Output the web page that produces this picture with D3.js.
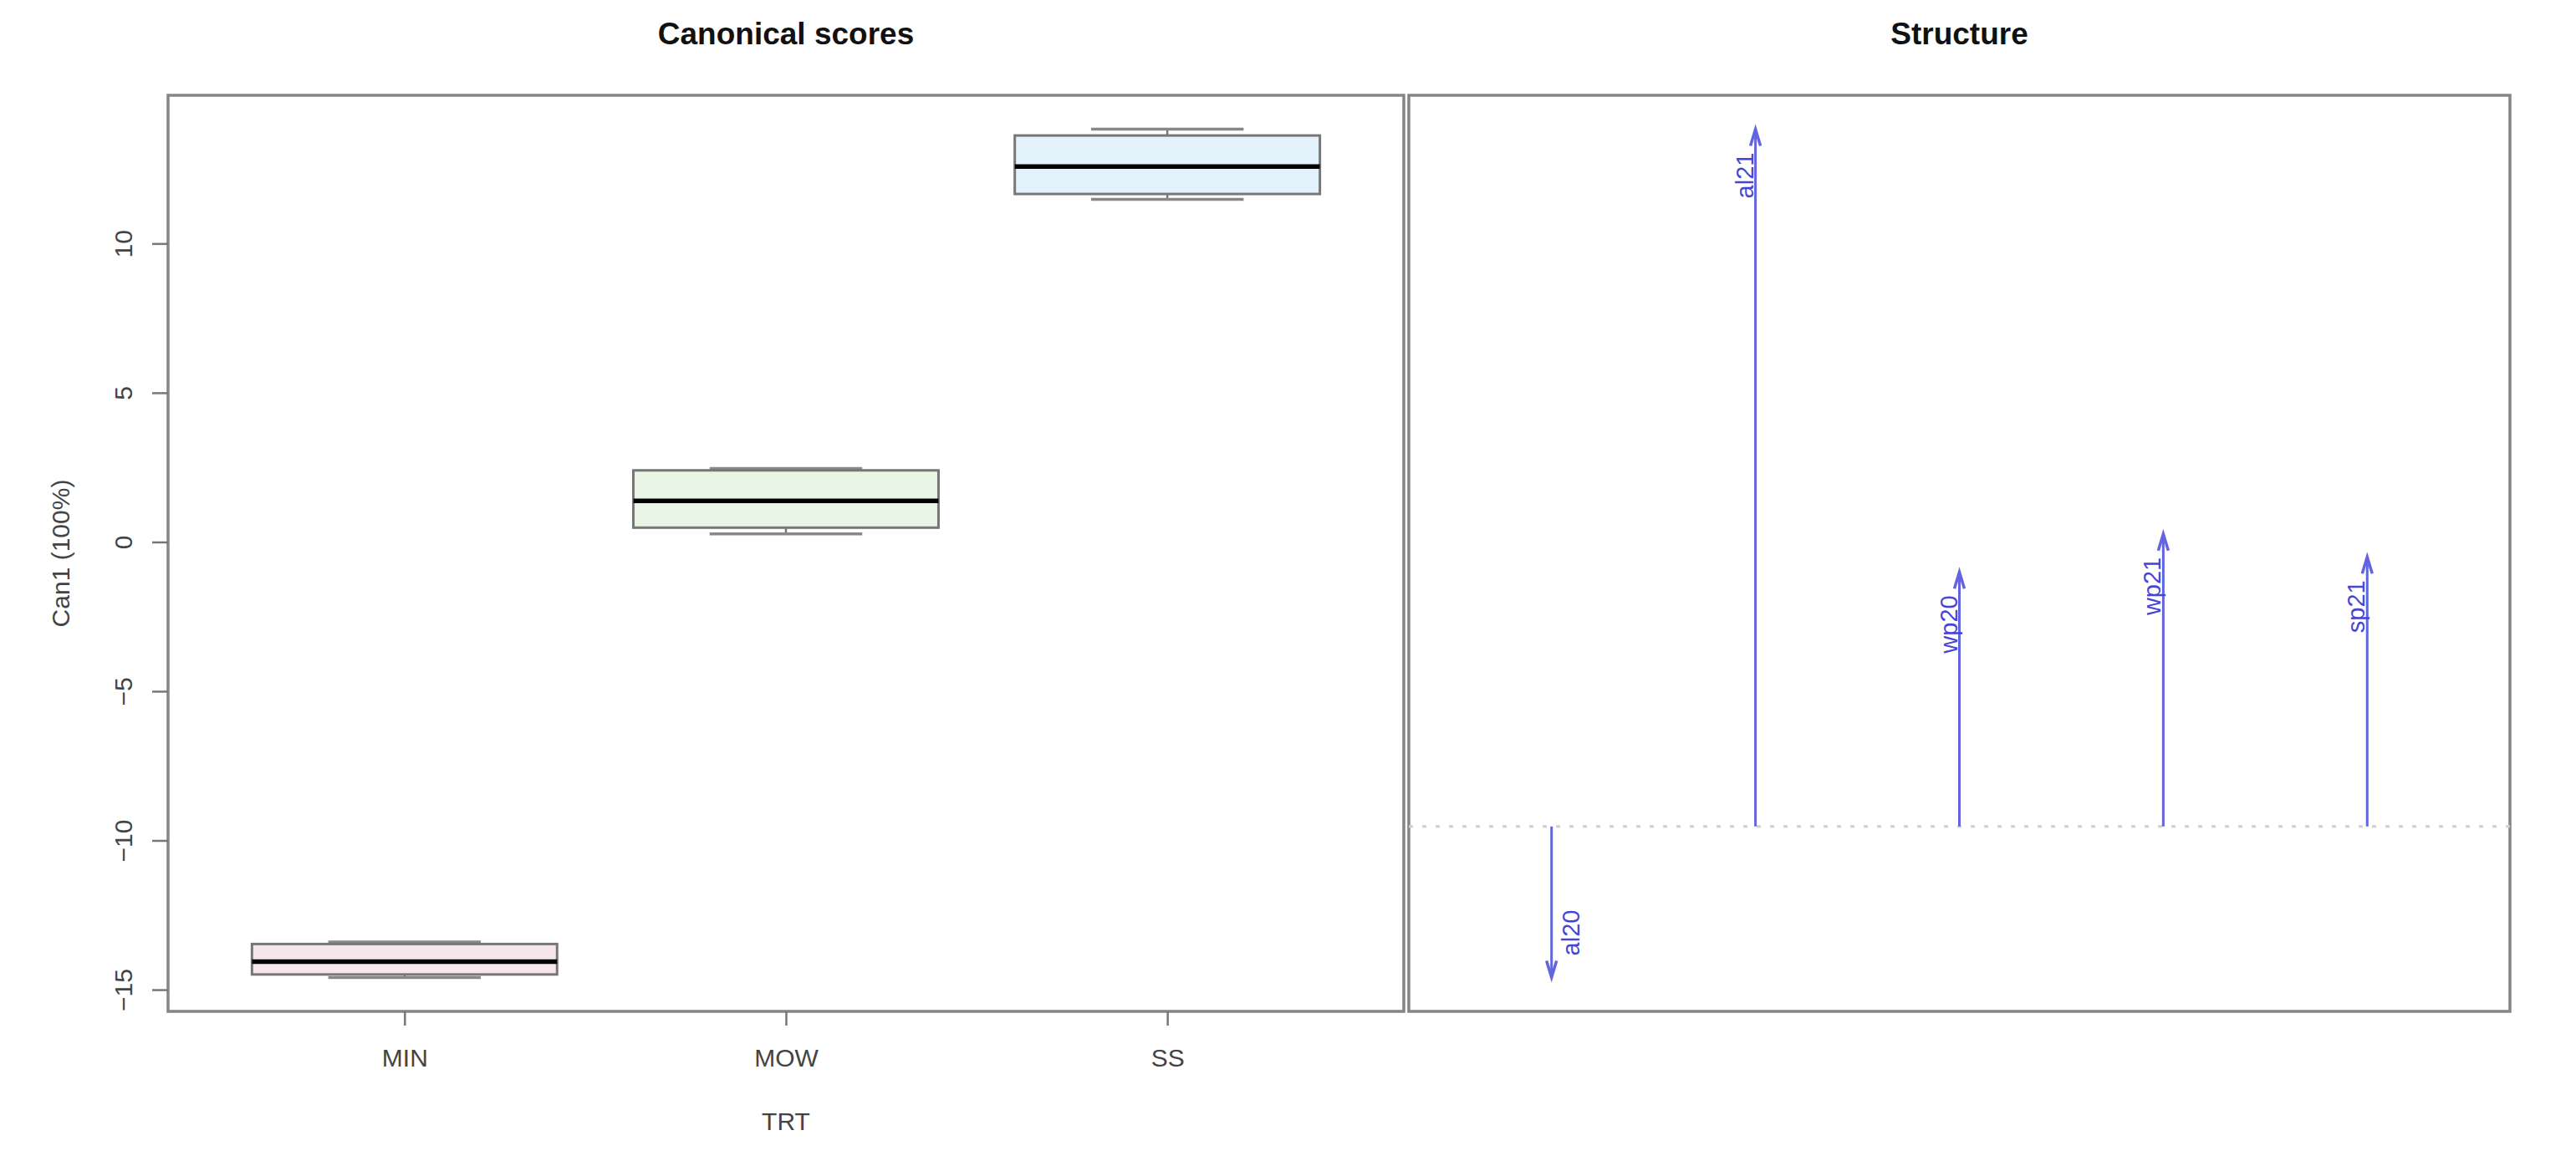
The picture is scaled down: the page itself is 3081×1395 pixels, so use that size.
<!DOCTYPE html>
<html>
<head>
<meta charset="utf-8">
<script src="https://cdn.jsdelivr.net/npm/d3@7"></script>
<style>
  html, body { margin: 0; padding: 0; background: #fff; }
  svg { display: block; font-family: "Liberation Sans", Arial, sans-serif; }
</style>
</head>
<body>
<div id="chart"></div>
<script>
// groups and box statistics (Can1 scores)
const groups = ['MIN', 'MOW', 'SS'];
const boxMin = [-14.59, 0.27, 11.48];
const boxQ1 = [-14.49, 0.48, 11.66];
const boxMedian = [-14.06, 1.38, 12.58];
const boxQ3 = [-13.47, 2.40, 13.62];
const boxMax = [-13.40, 2.46, 13.83];
const yTicks = [-15, -10, -5, 0, 5, 10];
const groupColors = ['#f7e7eb', '#eaf6e5', '#e2f1fa'];

// structure coefficients
const variables = ['al20', 'al21', 'wp20', 'wp21', 'sp21'];
const structure = [-0.21, 0.97, 0.354, 0.407, 0.375];

const W = 3081, H = 1395;
const plotTop = 114, plotBottom = 1210;
const left1 = 201, right1 = 1679;
const left2 = 1685, right2 = 3002;
const FONT = 30;

const svg = d3.select('#chart')
    .append('svg')
    .attr('width', W)
    .attr('height', H);

svg.append('rect').attr('width', W).attr('height', H).attr('fill', '#fff');

// R style 4% axis padding
function pad(lo, hi) {
    const d = (hi - lo) * 0.04;
    return [lo - d, hi + d];
}

// ---------- left panel : boxplots ----------
const x1 = d3.scaleLinear()
    .domain(pad(0.5, groups.length + 0.5))
    .range([left1, right1]);
const y1 = d3.scaleLinear()
    .domain(pad(d3.min(boxMin), d3.max(boxMax)))
    .range([plotBottom, plotTop]);

const boxes = groups.map((g, i) => ({
    name: g, pos: i + 1,
    min: boxMin[i], q1: boxQ1[i], med: boxMedian[i], q3: boxQ3[i], max: boxMax[i],
    fill: groupColors[i]
}));

const bx = svg.append('g').attr('class', 'boxes');
const bw = 0.4, sw = 0.2;

const b = bx.selectAll('.box')
    .data(boxes)
    .enter()
    .append('g')
    .attr('class', 'box');

// whiskers (dashed)
b.append('line')
    .attr('x1', d => x1(d.pos)).attr('x2', d => x1(d.pos))
    .attr('y1', d => y1(d.q3)).attr('y2', d => y1(d.max))
    .attr('stroke', '#777').attr('stroke-width', 2.5).attr('stroke-dasharray', '8,6');
b.append('line')
    .attr('x1', d => x1(d.pos)).attr('x2', d => x1(d.pos))
    .attr('y1', d => y1(d.q1)).attr('y2', d => y1(d.min))
    .attr('stroke', '#777').attr('stroke-width', 2.5).attr('stroke-dasharray', '8,6');

// staples
b.append('line')
    .attr('x1', d => x1(d.pos - sw)).attr('x2', d => x1(d.pos + sw))
    .attr('y1', d => y1(d.max)).attr('y2', d => y1(d.max))
    .attr('stroke', '#888').attr('stroke-width', 3.5);
b.append('line')
    .attr('x1', d => x1(d.pos - sw)).attr('x2', d => x1(d.pos + sw))
    .attr('y1', d => y1(d.min)).attr('y2', d => y1(d.min))
    .attr('stroke', '#888').attr('stroke-width', 3.5);

// box
b.append('rect')
    .attr('x', d => x1(d.pos - bw))
    .attr('y', d => y1(d.q3))
    .attr('width', d => x1(d.pos + bw) - x1(d.pos - bw))
    .attr('height', d => y1(d.q1) - y1(d.q3))
    .attr('fill', d => d.fill)
    .attr('stroke', '#777')
    .attr('stroke-width', 3);

// median
b.append('line')
    .attr('x1', d => x1(d.pos - bw)).attr('x2', d => x1(d.pos + bw))
    .attr('y1', d => y1(d.med)).attr('y2', d => y1(d.med))
    .attr('stroke', '#000').attr('stroke-width', 5.5);

// frame
svg.append('rect')
    .attr('x', left1).attr('y', plotTop)
    .attr('width', right1 - left1).attr('height', plotBottom - plotTop)
    .attr('fill', 'none').attr('stroke', '#858585').attr('stroke-width', 3.5);

// y axis
const yAxis = svg.append('g')
    .attr('transform', `translate(${left1},0)`)
    .call(d3.axisLeft(y1).tickValues(yTicks).tickSize(19).tickPadding(0).tickFormat(d3.format('d')));
yAxis.select('.domain').remove();
yAxis.selectAll('.tick line').attr('stroke', '#777').attr('stroke-width', 2.5);
yAxis.selectAll('.tick text')
    .attr('transform', 'rotate(-90)')
    .attr('x', 0).attr('y', -43).attr('dy', 0)
    .attr('text-anchor', 'middle')
    .attr('fill', '#444')
    .style('font-size', FONT + 'px');

// x axis
const xAxis = svg.append('g')
    .attr('transform', `translate(0,${plotBottom})`)
    .call(d3.axisBottom(x1).tickValues(boxes.map(d => d.pos)).tickSize(17).tickPadding(0)
        .tickFormat((d, i) => groups[i]));
xAxis.select('.domain').remove();
xAxis.selectAll('.tick line').attr('stroke', '#777').attr('stroke-width', 2.5);
xAxis.selectAll('.tick text')
    .attr('y', 66).attr('dy', 0)
    .attr('fill', '#444')
    .style('font-size', FONT + 'px');

// axis titles
svg.append('text')
    .attr('transform', `translate(83,${(plotTop + plotBottom) / 2}) rotate(-90)`)
    .attr('text-anchor', 'middle')
    .attr('fill', '#444')
    .style('font-size', FONT + 'px')
    .text('Can1 (100%)');

svg.append('text')
    .attr('x', x1(2)).attr('y', 1352)
    .attr('text-anchor', 'middle')
    .attr('fill', '#444')
    .style('font-size', FONT + 'px')
    .text('TRT');

svg.append('text')
    .attr('x', (left1 + right1) / 2).attr('y', 53)
    .attr('text-anchor', 'middle')
    .attr('fill', '#111')
    .style('font-size', '37px').style('font-weight', 'bold')
    .text('Canonical scores');

// ---------- right panel : structure ----------
const x2 = d3.scaleLinear()
    .domain(pad(0.5, variables.length + 0.5))
    .range([left2, right2]);
const y2 = d3.scaleLinear()
    .domain(pad(d3.min(structure), d3.max(structure)))
    .range([plotBottom, plotTop]);

svg.append('rect')
    .attr('x', left2).attr('y', plotTop)
    .attr('width', right2 - left2).attr('height', plotBottom - plotTop)
    .attr('fill', 'none').attr('stroke', '#858585').attr('stroke-width', 3.5);

// zero line
svg.append('line')
    .attr('x1', left2).attr('x2', right2)
    .attr('y1', y2(0)).attr('y2', y2(0))
    .attr('stroke', '#d0d0d0').attr('stroke-width', 3).attr('stroke-dasharray', '5,11');

const vecs = variables.map((v, i) => ({ name: v, pos: i + 1, value: structure[i] }));

const arrows = svg.selectAll('.vec')
    .data(vecs)
    .enter()
    .append('g')
    .attr('class', 'vec');

const arrowCol = '#6464e0';
arrows.append('line')
    .attr('x1', d => x2(d.pos)).attr('x2', d => x2(d.pos))
    .attr('y1', y2(0)).attr('y2', d => y2(d.value))
    .attr('stroke', arrowCol).attr('stroke-width', 3);

// arrow heads
arrows.append('path')
    .attr('d', d => {
        const x = x2(d.pos), y = y2(d.value);
        const s = d.value > 0 ? 1 : -1;
        return `M${x - 6},${y + s * 20}L${x},${y}L${x + 6},${y + s * 20}`;
    })
    .attr('fill', 'none')
    .attr('stroke', arrowCol).attr('stroke-width', 3.5);

arrows.append('text')
    .attr('transform', d => {
        const x = x2(d.pos), y = y2(d.value);
        return d.value > 0
            ? `translate(${x - 3},${y + 28}) rotate(-90)`
            : `translate(${x + 33},${y - 26}) rotate(-90)`;
    })
    .attr('text-anchor', d => d.value > 0 ? 'end' : 'start')
    .attr('fill', '#4646d6')
    .style('font-size', '29px')
    .text(d => d.name);

svg.append('text')
    .attr('x', (left2 + right2) / 2).attr('y', 53)
    .attr('text-anchor', 'middle')
    .attr('fill', '#111')
    .style('font-size', '37px').style('font-weight', 'bold')
    .text('Structure');
</script>
</body>
</html>
